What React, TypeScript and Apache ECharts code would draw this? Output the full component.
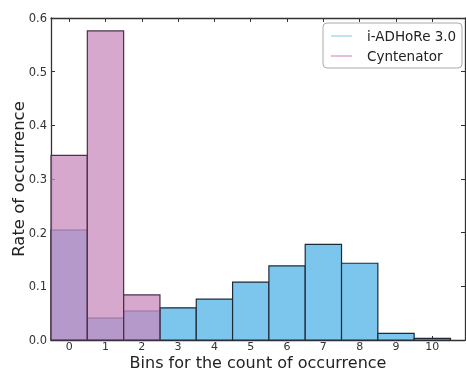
import React, { useEffect, useRef } from "react";
import * as echarts from "echarts";

const bins = [0, 1, 2, 3, 4, 5, 6, 7, 8, 9, 10];
const iadhoreValues = [0.205, 0.041, 0.054, 0.06, 0.076, 0.108, 0.138, 0.178, 0.143, 0.0125, 0.003];
const cyntenatorValues = [0.344, 0.576, 0.084];
const yTicks = [0, 0.1, 0.2, 0.3, 0.4, 0.5, 0.6];
const seriesNames = ["i-ADHoRe 3.0", "Cyntenator"];

const FONT = "DejaVu Sans";
const BLUE = "#7cc6ee";
const PINK = "rgba(200,137,189,0.74)";

export default function App() {
  const ref = useRef<HTMLDivElement>(null);
  useEffect(() => {
    const chart = echarts.init(ref.current!, null, { renderer: "svg" });
    const makeRender = (fill: string, stroke: string) => (params: any, api: any) => {
      const x = api.value(0);
      const y = api.value(1);
      const p0 = api.coord([x - 0.5, y]);
      const p1 = api.coord([x + 0.5, 0]);
      return {
        type: "rect",
        shape: { x: p0[0], y: p0[1], width: p1[0] - p0[0], height: p1[1] - p0[1] },
        style: { fill, stroke, lineWidth: 1.2 },
      };
    };
    const tickStyle = { show: true, inside: true, length: 4, lineStyle: { color: "#333", width: 1 } };
    const axisLine = { show: true, onZero: false, lineStyle: { color: "#333", width: 1.3 } };
    chart.setOption({
      animation: false,
      grid: { left: 51, right: 1, top: 18, bottom: 31, containLabel: false, outerBoundsMode: "none" },
      xAxis: [
        {
          type: "value",
          min: -0.5,
          max: 10.9,
          position: "bottom",
          axisLine,
          splitLine: { show: false },
          axisTick: { ...tickStyle, customValues: bins },
          axisLabel: {
            customValues: bins,
            margin: 1,
            fontSize: 11,
            lineHeight: 11,
            fontFamily: FONT,
            color: "#333",
          },
          name: "Bins for the count of occurrence",
          nameLocation: "middle",
          nameGap: 14.5,
          nameMoveOverlap: false,
          nameTextStyle: { fontSize: 16, lineHeight: 15, fontFamily: FONT, color: "#222" },
        },
        {
          type: "value",
          min: -0.5,
          max: 10.9,
          position: "top",
          axisLine,
          splitLine: { show: false },
          axisTick: { ...tickStyle, customValues: bins },
          axisLabel: { show: false },
        },
      ],
      yAxis: [
        {
          type: "value",
          min: 0,
          max: 0.6,
          interval: 0.1,
          position: "left",
          axisLine,
          splitLine: { show: false },
          axisTick: tickStyle,
          axisLabel: {
            margin: 4,
            fontSize: 11.5,
            fontFamily: FONT,
            color: "#333",
            formatter: (v: number) => v.toFixed(1),
          },
          name: "Rate of occurrence",
          nameLocation: "middle",
          nameGap: 24,
          nameMoveOverlap: false,
          nameTextStyle: { fontSize: 16.5, fontFamily: FONT, color: "#222" },
        },
        {
          type: "value",
          min: 0,
          max: 0.6,
          interval: 0.1,
          position: "right",
          axisLine,
          splitLine: { show: false },
          axisTick: tickStyle,
          axisLabel: { show: false },
        },
      ],
      series: [
        {
          name: seriesNames[0],
          type: "custom",
          renderItem: makeRender(BLUE, "#1e2a36"),
          encode: { x: 0, y: 1 },
          data: bins.map((b, i) => [b, iadhoreValues[i]]),
          z: 2,
        },
        {
          name: seriesNames[1],
          type: "custom",
          renderItem: makeRender(PINK, "#4a3048"),
          encode: { x: 0, y: 1 },
          data: cyntenatorValues.map((v, i) => [bins[i], v]),
          z: 3,
        },
      ],
      graphic: [
        {
          type: "rect",
          shape: { x: 323, y: 23, width: 139, height: 45, r: 4 },
          style: { fill: "#fff", stroke: "#aaa", lineWidth: 1 },
          z: 10,
        },
        {
          type: "line",
          shape: { x1: 331, y1: 36, x2: 352, y2: 36 },
          style: { stroke: "#a8dcf3", lineWidth: 1.5 },
          z: 11,
        },
        {
          type: "line",
          shape: { x1: 331, y1: 56, x2: 352, y2: 56 },
          style: { stroke: "#e0a8d4", lineWidth: 1.5 },
          z: 11,
        },
        {
          type: "text",
          x: 367,
          y: 36,
          style: { text: seriesNames[0], fontSize: 13.5, fontFamily: FONT, fill: "#222", verticalAlign: "middle" },
          z: 11,
        },
        {
          type: "text",
          x: 367,
          y: 56,
          style: { text: seriesNames[1], fontSize: 13.5, fontFamily: FONT, fill: "#222", verticalAlign: "middle" },
          z: 11,
        },
      ],
    });
    return () => chart.dispose();
  }, []);
  return <div ref={ref} style={{ position: "fixed", left: 0, top: 0, width: 466, height: 371 }} />;
}
